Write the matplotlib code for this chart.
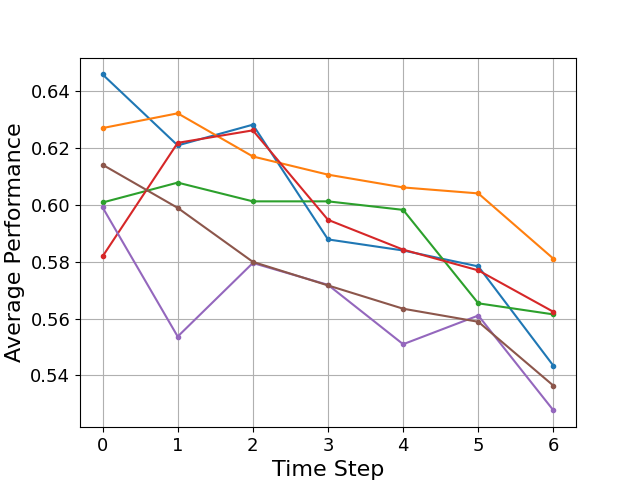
import matplotlib
matplotlib.use("Agg")
import matplotlib.pyplot as plt

steps = [0, 1, 2, 3, 4, 5, 6]
blue = [0.6460, 0.6210, 0.6283, 0.5879, 0.5840, 0.5784, 0.5434]
orange = [0.6271, 0.6323, 0.6171, 0.6107, 0.6062, 0.6041, 0.5811]
green = [0.6009, 0.6079, 0.6013, 0.6013, 0.5983, 0.5654, 0.5615]
red = [0.5819, 0.6219, 0.6263, 0.5948, 0.5843, 0.5770, 0.5624]
purple = [0.5992, 0.5537, 0.5796, 0.5719, 0.5510, 0.5611, 0.5277]
brown = [0.6142, 0.5990, 0.5800, 0.5717, 0.5635, 0.5589, 0.5364]

series = [blue, orange, green, red, purple, brown]

fig, ax = plt.subplots(figsize=(6.4, 4.8), dpi=100)
for s in series:
    ax.plot(steps, s, marker='o', markersize=3)
ax.set_xlabel("Time Step", fontsize=16)
ax.set_ylabel("Average Performance", fontsize=16)
ax.tick_params(labelsize=13)
ax.grid(True)
fig.savefig("out.png")
